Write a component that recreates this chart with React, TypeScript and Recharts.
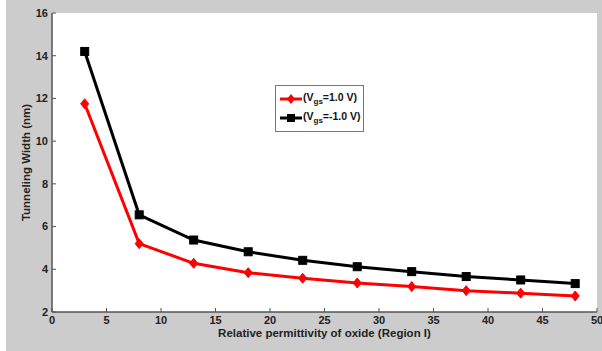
import React from 'react';
import { LineChart, Line, XAxis, YAxis, CartesianGrid, Label } from 'recharts';

// permittivity values on the x axis
const permittivity = [3, 8, 13, 18, 23, 28, 33, 38, 43, 48];
// tunneling width (nm) for Vgs = 1.0 V
const widthPos = [11.75, 5.2, 4.28, 3.84, 3.58, 3.36, 3.19, 3.0, 2.88, 2.75];
// tunneling width (nm) for Vgs = -1.0 V
const widthNeg = [14.2, 6.55, 5.37, 4.82, 4.42, 4.12, 3.89, 3.66, 3.5, 3.33];

const xTicks = [0, 5, 10, 15, 20, 25, 30, 35, 40, 45, 50];
const yTicks = [2, 4, 6, 8, 10, 12, 14, 16];

const data = permittivity.map((x, i) => ({ x, pos: widthPos[i], neg: widthNeg[i] }));

const FONT = '"Liberation Sans", Arial, sans-serif';
const AXIS = '#555';
const tickFont = { fontFamily: FONT, fontSize: 11, fontWeight: 700, fill: '#222' };

const Diamond = (props: any) => {
  const { cx, cy } = props;
  if (cx == null || cy == null) return null;
  return (
    <path d={`M${cx},${cy - 5} L${cx + 4},${cy} L${cx},${cy + 5} L${cx - 4},${cy} Z`} fill="#ff0000" stroke="#ff0000" />
  );
};

const Square = (props: any) => {
  const { cx, cy } = props;
  if (cx == null || cy == null) return null;
  return <rect x={cx - 4} y={cy - 4} width={8} height={8} fill="#000" stroke="#000" />;
};

const NoTick = () => null;

function LegendBox() {
  const row = (color: string, marker: React.ReactNode, label: string) => (
    <div style={{ display: 'flex', alignItems: 'center', height: 19 }}>
      <svg width={24} height={12}>
        <line x1={1} y1={6} x2={23} y2={6} stroke={color} strokeWidth={3} />
        {marker}
      </svg>
      <span style={{ fontFamily: FONT, fontSize: 10.5, fontWeight: 700, color: '#111', whiteSpace: 'nowrap' }}>
        (V<sub style={{ fontSize: 8 }}>gs</sub>={label} V)
      </span>
    </div>
  );
  return (
    <div style={{ position: 'absolute', left: 275, top: 85, width: 89, height: 47, border: '1px solid #777', background: '#fff', padding: '3px 0 0 3px', boxSizing: 'border-box' }}>
      {row('#ff0000', <path d="M12,1 L16,6 L12,11 L8,6 Z" fill="#ff0000" />, '1.0')}
      {row('#000', <rect x={8} y={2} width={8} height={8} fill="#000" />, '-1.0')}
    </div>
  );
}

export default function App() {
  React.useEffect(() => {
    document.body.style.margin = '0';
    document.body.style.overflow = 'hidden';
    document.body.style.background = '#cccccc';
  }, []);
  return (
    <div style={{ position: 'absolute', left: 0, top: 0, width: 602, height: 351, background: '#cccccc', overflow: 'hidden' }}>
      <div style={{ position: 'absolute', left: 0, top: 0, width: 6, height: 351, background: '#fff' }} />
      <LineChart width={602} height={351} data={data} margin={{ top: 13, right: 5, bottom: 9, left: 12 }}>
        <CartesianGrid horizontal={false} vertical={false} fill="#fff" />
        <XAxis
          dataKey="x"
          type="number"
          domain={[0, 50]}
          ticks={xTicks}
          interval={0}
          height={30}
          tickSize={-4}
          tickMargin={8}
          tick={tickFont}
          axisLine={{ stroke: AXIS, strokeWidth: 1.5 }}
          tickLine={{ stroke: AXIS }}
        >
          <Label
            value="Relative permittivity of oxide (Region I)"
            position="insideBottom"
            offset={5}
            style={{ fontFamily: FONT, fontSize: 11.5, fontWeight: 700, fill: '#222' }}
          />
        </XAxis>
        <XAxis
          xAxisId="top"
          orientation="top"
          type="number"
          domain={[0, 50]}
          ticks={xTicks}
          interval={0}
          height={0}
          tickSize={-4}
          tick={NoTick}
          axisLine={{ stroke: AXIS, strokeWidth: 1.5 }}
          tickLine={{ stroke: AXIS }}
        />
        <YAxis
          type="number"
          domain={[2, 16]}
          ticks={yTicks}
          interval={0}
          width={40}
          tickSize={-4}
          tickMargin={8}
          tick={tickFont}
          axisLine={{ stroke: AXIS, strokeWidth: 1.5 }}
          tickLine={{ stroke: AXIS }}
        >
          <Label
            value="Tunneling Width (nm)"
            angle={-90}
            position="insideLeft"
            offset={14}
            style={{ textAnchor: 'middle', fontFamily: FONT, fontSize: 11.5, fontWeight: 700, fill: '#222' }}
          />
        </YAxis>
        <YAxis
          yAxisId="right"
          orientation="right"
          type="number"
          domain={[2, 16]}
          ticks={yTicks}
          interval={0}
          width={0}
          tickSize={-4}
          tick={NoTick}
          axisLine={{ stroke: AXIS, strokeWidth: 1.5 }}
          tickLine={{ stroke: AXIS }}
        />
        <Line dataKey="pos" stroke="#ff0000" strokeWidth={3} dot={<Diamond />} activeDot={false} isAnimationActive={false} />
        <Line dataKey="neg" stroke="#000" strokeWidth={3} dot={<Square />} activeDot={false} isAnimationActive={false} />
      </LineChart>
      <LegendBox />
    </div>
  );
}
